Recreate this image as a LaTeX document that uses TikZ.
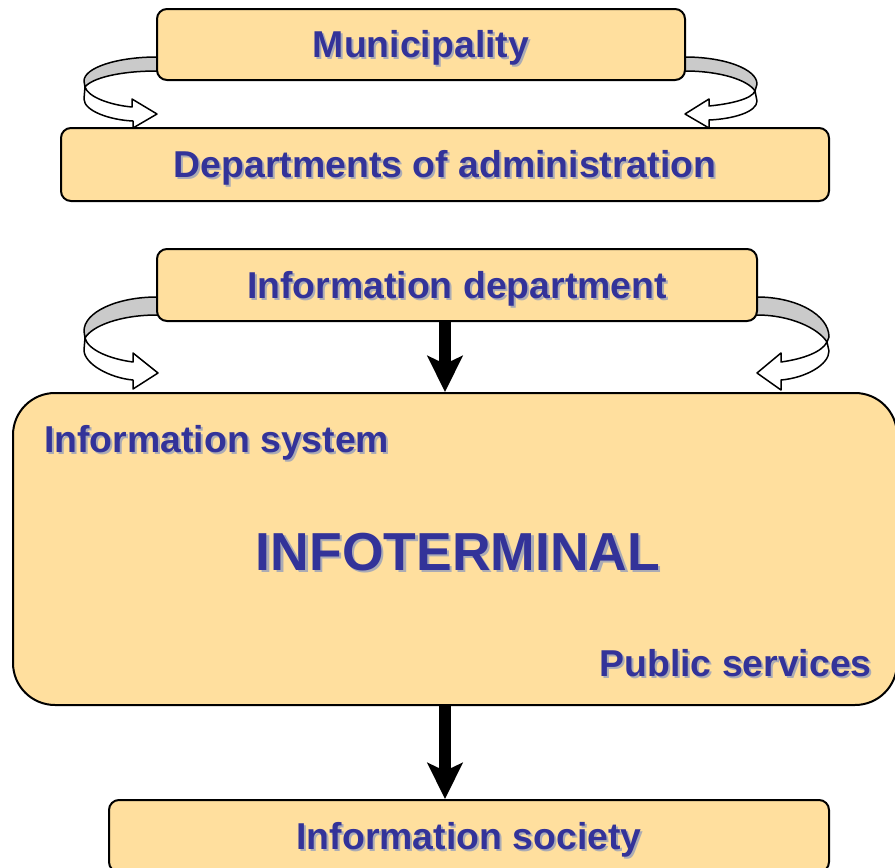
\documentclass[tikz,border=0pt]{standalone}
\usepackage{fontspec}
\setmainfont{Liberation Sans}
\usetikzlibrary{arrows.meta}
\definecolor{boxfill}{HTML}{FFDF9E}
\definecolor{ink}{HTML}{333399}
\definecolor{shade}{HTML}{ABABB4}
\definecolor{band}{HTML}{CACACA}
% label with a soft drop shadow
\newcommand\shtxt[2][2pt]{\rlap{\kern#1\raisebox{-#1}{\color{shade}#2}}{\color{ink}#2}}
\begin{document}
\begin{tikzpicture}[x=1pt,y=-1pt,
  labelbox/.style={draw=black, line width=2pt, fill=boxfill, rounded corners=10pt,
    inner sep=0pt, text height=26pt, text depth=0pt,
    font=\fontsize{37.4}{41}\bfseries\selectfont},
  plainlabel/.style={inner sep=0pt, text height=26pt, text depth=0pt,
    font=\fontsize{37.4}{41}\bfseries\selectfont},
  bigarrow/.style={line width=12pt, -{Stealth[length=36pt,width=35pt,inset=8pt]}},
  backside/.style={draw=black, line width=1.5pt, fill=band, line join=round},
  frontside/.style={draw=black, line width=1.5pt, fill=white, line join=round}]
\useasboundingbox (0,0) rectangle (895,868);

% ribbon arrows behind the boxes
% upper left
\path[backside] (160,57) -- (157,57) .. controls (116.7,57) and (84,67.8) .. (84,81)
  -- (85,87) .. controls (92,78) and (120,71) .. (157,71) -- (160,71) -- cycle;
\path[frontside] (85,87) -- (84,99) .. controls (84,111) and (110,120) .. (133,121)
  -- (133,128) -- (157,114) -- (132,99) -- (132,107)
  .. controls (110,105) and (88,97) .. (85,87) -- cycle;
% upper right
\path[backside] (682,57) -- (685,57) .. controls (724.7,57) and (757,69.1) .. (757,84)
  -- (755,91) .. controls (748,80) and (720,71) .. (685,71) -- (682,71) -- cycle;
\path[frontside] (755,91) -- (757,101) .. controls (757,112) and (733,119) .. (709,120)
  -- (709,128) -- (685,114) -- (709,99) -- (709,106)
  .. controls (730,104) and (752,99) .. (755,91) -- cycle;
% lower left
\path[backside] (160,297) -- (157,297) .. controls (116.7,297) and (84,312.2) .. (84,331)
  -- (85,338) .. controls (92,326) and (120,315) .. (157,315) -- (160,315) -- cycle;
\path[frontside] (85,338) -- (84,350) .. controls (84,364) and (110,378) .. (133,380)
  -- (133,389) -- (158,373) -- (133,353) -- (133,362)
  .. controls (110,359) and (88,350) .. (85,338) -- cycle;
% lower right
\path[backside] (754,297) -- (757,297) .. controls (796.7,297) and (829,314.9) .. (829,337)
  -- (827,342) .. controls (818,328) and (790,315) .. (757,315) -- (754,315) -- cycle;
\path[frontside] (827,342) -- (829,351) .. controls (829,365) and (805,378) .. (781,380)
  -- (781,390) -- (757,373) -- (781,353) -- (781,362)
  .. controls (803,359) and (822,352) .. (827,342) -- cycle;

% boxes
\node[labelbox, minimum width=528pt, minimum height=71pt] (muni) at (421,44.5)
  {\shtxt{Municipality}};
\node[labelbox, minimum width=768pt, minimum height=73pt] (dept) at (445,164.5)
  {\shtxt{Departments of administration}};
\node[labelbox, minimum width=600pt, minimum height=72pt] (infodept) at (457,285)
  {\shtxt{Information department}};
\node[labelbox, rounded corners=42pt, minimum width=884pt, minimum height=312pt] (term) at (455,549) {};
\node[labelbox, minimum width=720pt, minimum height=72pt] (society) at (469,836)
  {\shtxt{Information society}};

% texts inside the terminal box
\node[plainlabel, anchor=west] (infosys) at (44,439) {\shtxt{Information system}};
\node[inner sep=0pt, text height=38pt, text depth=0pt,
  font=\fontsize{53.5}{58}\bfseries\selectfont] (infoterm) at (458,551) {\shtxt[2.5pt]{INFOTERMINAL}};
\node[plainlabel, anchor=east] (pubserv) at (872,663) {\shtxt{Public services}};

% flow arrows
\draw[bigarrow] ([xshift=-12pt]infodept.south) -- ([xshift=-12pt]infodept.south |- term.north);
\draw[bigarrow] ([xshift=-10pt]term.south) -- ([xshift=-10pt]term.south |- society.north);
\end{tikzpicture}
\end{document}
